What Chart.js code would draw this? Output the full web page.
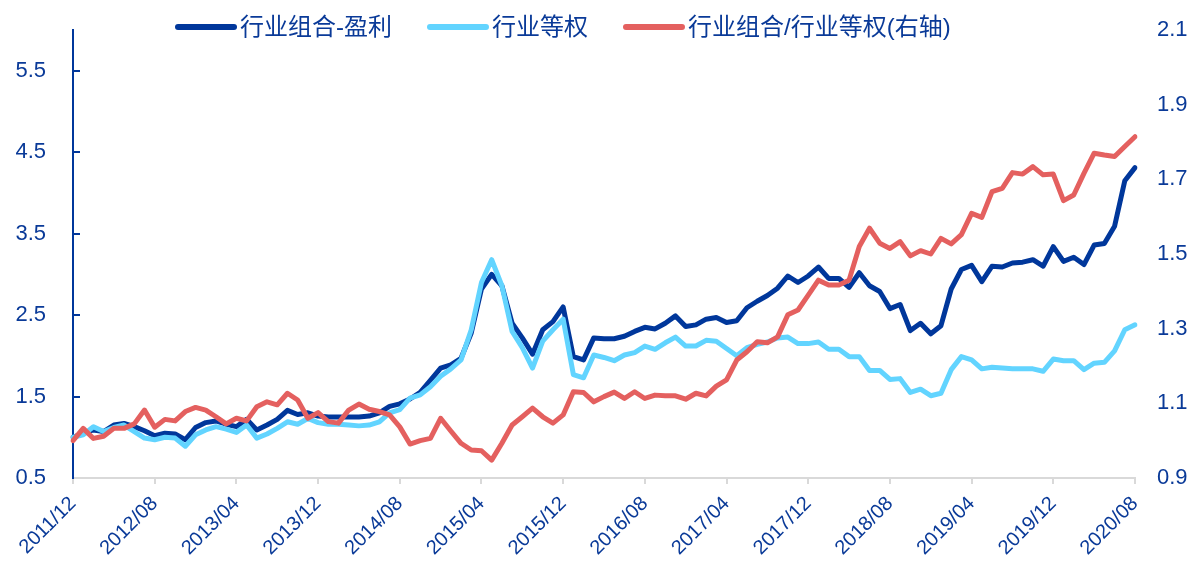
<!DOCTYPE html>
<html>
<head>
<meta charset="utf-8">
<title>行业组合</title>
<script src="https://cdn.jsdelivr.net/npm/chart.js@4.4.0/dist/chart.umd.min.js"></script>
<style>
html, body { margin: 0; padding: 0; background: #ffffff; }
#wrap { width: 1203px; height: 582px; }
</style>
</head>
<body>
<div id="wrap"><canvas id="chart" width="1203" height="582"></canvas></div>
<script>
// months 2011/12 .. 2020/08
var months = [];
for (var yr = 2011; yr <= 2020; yr++) {
    for (var mo = 1; mo <= 12; mo++) {
        if (yr === 2011 && mo < 12) continue;
        if (yr === 2020 && mo > 8) break;
        months.push(yr + '/' + (mo < 10 ? '0' + mo : mo));
    }
}

var xTickLabels = ['2011/12', '2012/08', '2013/04', '2013/12', '2014/08', '2015/04', '2015/12',
    '2016/08', '2017/04', '2017/12', '2018/08', '2019/04', '2019/12', '2020/08'];
var leftTicks = [0.5, 1.5, 2.5, 3.5, 4.5, 5.5];
var rightTicks = [0.9, 1.1, 1.3, 1.5, 1.7, 1.9, 2.1];

var seriesNames = ['行业组合-盈利', '行业等权', '行业组合/行业等权(右轴)'];

var profit = [
    1.00, 1.05, 1.09, 1.07, 1.15, 1.17, 1.13, 1.08, 1.02, 1.05,
    1.04, 0.97, 1.12, 1.18, 1.20, 1.16, 1.13, 1.22, 1.09, 1.15,
    1.22, 1.33, 1.28, 1.30, 1.26, 1.25, 1.25, 1.25, 1.25, 1.26,
    1.30, 1.38, 1.41, 1.47, 1.55, 1.70, 1.85, 1.89, 1.97, 2.28,
    2.82, 3.00, 2.86, 2.40, 2.22, 2.02, 2.32, 2.42, 2.60, 1.99,
    1.95, 2.22, 2.21, 2.21, 2.24, 2.30, 2.35, 2.33, 2.40, 2.49,
    2.36, 2.38, 2.45, 2.47, 2.41, 2.43, 2.59, 2.67, 2.74, 2.83,
    2.98, 2.90, 2.98, 3.09, 2.95, 2.95, 2.84, 3.02, 2.86, 2.79,
    2.58, 2.63, 2.31, 2.40, 2.27, 2.37, 2.82, 3.06, 3.11, 2.91,
    3.10, 3.09, 3.14, 3.15, 3.18, 3.10, 3.34, 3.16, 3.21, 3.12,
    3.36, 3.38, 3.59, 4.15, 4.31
];

var equal = [
    1.00, 1.03, 1.13, 1.07, 1.12, 1.15, 1.07, 0.99, 0.97, 1.00,
    0.99, 0.89, 1.03, 1.09, 1.13, 1.10, 1.06, 1.15, 0.99, 1.04,
    1.11, 1.19, 1.16, 1.23, 1.18, 1.16, 1.16, 1.15, 1.14, 1.15,
    1.19, 1.30, 1.34, 1.48, 1.52, 1.62, 1.75, 1.84, 1.95, 2.32,
    2.90, 3.18, 2.86, 2.30, 2.10, 1.85, 2.18, 2.32, 2.45, 1.77,
    1.73, 2.01, 1.98, 1.94, 2.01, 2.04, 2.12, 2.08, 2.16, 2.23,
    2.12, 2.12, 2.19, 2.18, 2.09, 2.00, 2.10, 2.14, 2.17, 2.22,
    2.23, 2.15, 2.15, 2.17, 2.08, 2.08, 1.99, 1.99, 1.82, 1.82,
    1.71, 1.72, 1.55, 1.59, 1.51, 1.54, 1.83, 1.99, 1.95, 1.84,
    1.86, 1.85, 1.84, 1.84, 1.84, 1.81, 1.96, 1.94, 1.94, 1.83,
    1.91, 1.92, 2.06, 2.32, 2.38
];

var ratio = [
    1.000, 1.033, 1.006, 1.012, 1.033, 1.033, 1.045, 1.082, 1.036, 1.057,
    1.053, 1.078, 1.089, 1.082, 1.064, 1.045, 1.060, 1.053, 1.091, 1.104,
    1.096, 1.127, 1.109, 1.060, 1.075, 1.051, 1.047, 1.082, 1.098, 1.084,
    1.078, 1.069, 1.037, 0.991, 1.000, 1.006, 1.060, 1.026, 0.993, 0.975,
    0.973, 0.948, 0.993, 1.042, 1.064, 1.087, 1.064, 1.047, 1.069, 1.131,
    1.129, 1.104, 1.118, 1.130, 1.113, 1.131, 1.113, 1.122, 1.120, 1.120,
    1.111, 1.127, 1.120, 1.146, 1.163, 1.216, 1.238, 1.265, 1.262, 1.278,
    1.337, 1.350, 1.390, 1.430, 1.417, 1.417, 1.430, 1.520, 1.569, 1.529,
    1.515, 1.533, 1.495, 1.509, 1.500, 1.542, 1.527, 1.552, 1.609, 1.598,
    1.667, 1.676, 1.718, 1.714, 1.734, 1.712, 1.714, 1.643, 1.658, 1.716,
    1.770, 1.765, 1.761, 1.788, 1.814
];

var darkBlue = '#00379b';
var lightBlue = '#62d4ff';
var red = '#e4605f';
var textColor = '#0a3a98';
var fontFamily = '"Liberation Sans", Arial, "Noto Sans CJK SC", sans-serif';

// legend drawn on top, left part of the chart
var topLegend = {
    id: 'topLegend',
    afterDraw: function(chart) {
        var ctx = chart.ctx;
        var sets = chart.data.datasets;
        var x = 175;
        var y = 27;
        ctx.save();
        ctx.font = '24px ' + fontFamily;
        ctx.textBaseline = 'middle';
        ctx.textAlign = 'left';
        for (var i = 0; i < sets.length; i++) {
            ctx.strokeStyle = sets[i].borderColor;
            ctx.lineWidth = 6;
            ctx.lineCap = 'round';
            ctx.beginPath();
            ctx.moveTo(x + 3, y);
            ctx.lineTo(x + 59, y);
            ctx.stroke();
            ctx.fillStyle = textColor;
            ctx.fillText(sets[i].label, x + 65, y + 1);
            x += 65 + ctx.measureText(sets[i].label).width + 35;
        }
        ctx.restore();
    }
};

function lineSet(label, data, color, axis, order) {
    return {
        label: label,
        data: data,
        yAxisID: axis,
        borderColor: color,
        backgroundColor: color,
        borderWidth: 5,
        pointRadius: 0,
        pointHoverRadius: 0,
        tension: 0,
        borderJoinStyle: 'round',
        borderCapStyle: 'round',
        fill: false,
        order: order
    };
}

// keep the y axes from pushing the plot area down
function fixWidth(w) {
    return function(scale) {
        scale.width = w;
        scale.paddingTop = 0;
        scale.paddingBottom = 0;
    };
}

var ctx = document.getElementById('chart').getContext('2d');
new Chart(ctx, {
    type: 'line',
    data: {
        labels: months,
        datasets: [
            lineSet(seriesNames[0], profit, darkBlue, 'y', 2),
            lineSet(seriesNames[1], equal, lightBlue, 'y', 1),
            lineSet(seriesNames[2], ratio, red, 'y1', 0)
        ]
    },
    options: {
        responsive: false,
        animation: false,
        devicePixelRatio: 1,
        layout: { padding: { top: 30, left: 0, right: 0, bottom: 0 } },
        plugins: {
            legend: { display: false },
            tooltip: { enabled: false }
        },
        scales: {
            x: {
                type: 'category',
                offset: false,
                grid: {
                    display: true,
                    drawOnChartArea: false,
                    drawTicks: true,
                    tickLength: 6,
                    color: '#d9d9d9',
                    lineWidth: 2
                },
                border: { display: true, color: '#d9d9d9', width: 2 },
                ticks: {
                    autoSkip: false,
                    minRotation: 45,
                    maxRotation: 45,
                    padding: 8,
                    color: textColor,
                    font: { family: fontFamily, size: 20 }
                },
                afterBuildTicks: function(scale) {
                    scale.ticks = scale.ticks.filter(function(t) {
                        return xTickLabels.indexOf(months[t.value]) >= 0;
                    });
                },
                afterFit: function(scale) { scale.height = 104; }
            },
            y: {
                position: 'left',
                min: 0.5,
                max: 6.0,
                grid: {
                    display: true,
                    drawOnChartArea: false,
                    drawTicks: true,
                    tickLength: -7,
                    color: darkBlue,
                    lineWidth: 2
                },
                border: { display: true, color: darkBlue, width: 2 },
                ticks: {
                    padding: 34,
                    color: textColor,
                    font: { family: fontFamily, size: 22 },
                    callback: function(v) { return v.toFixed(1); }
                },
                afterBuildTicks: function(scale) {
                    scale.ticks = leftTicks.map(function(v) { return { value: v }; });
                },
                afterFit: fixWidth(73)
            },
            y1: {
                position: 'right',
                min: 0.9,
                max: 2.1,
                grid: { display: false, drawTicks: false },
                border: { display: false },
                ticks: {
                    padding: 22,
                    color: textColor,
                    font: { family: fontFamily, size: 22 },
                    callback: function(v) { return v.toFixed(1); }
                },
                afterBuildTicks: function(scale) {
                    scale.ticks = rightTicks.map(function(v) { return { value: v }; });
                },
                afterFit: fixWidth(68)
            }
        }
    },
    plugins: [topLegend]
});
</script>
</body>
</html>
